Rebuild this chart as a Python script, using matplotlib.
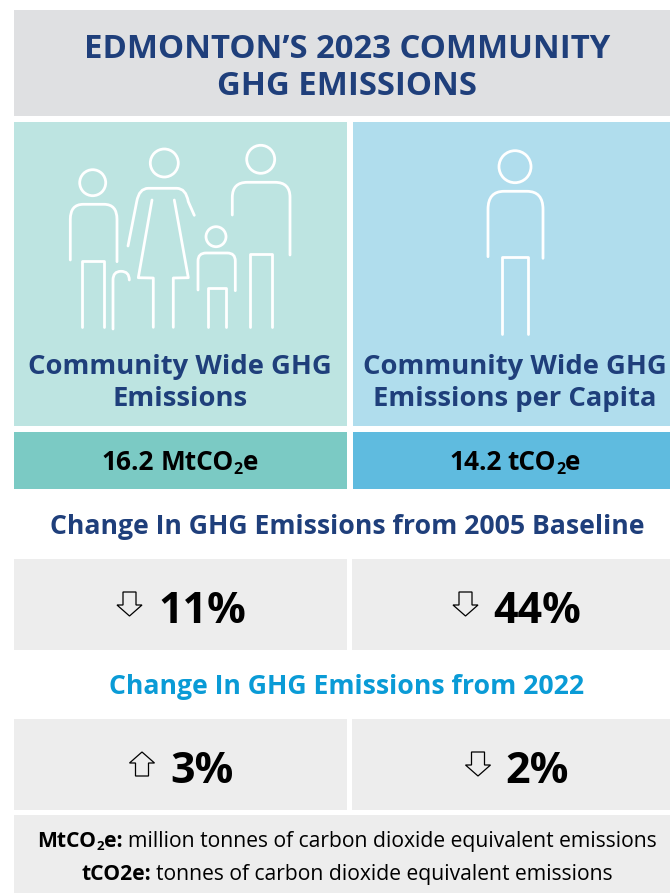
import matplotlib
matplotlib.use("Agg")
import matplotlib.pyplot as plt
from matplotlib.patches import Rectangle, Circle, Polygon, PathPatch
from matplotlib.path import Path

title_lines = ["EDMONTON\u2019S 2023 COMMUNITY", "GHG EMISSIONS"]
panel_labels = [["Community Wide GHG", "Emissions"], ["Community Wide GHG", "Emissions per Capita"]]
totals = ["16.2", "14.2"]
units = ["MtCO", "tCO"]
baseline_title = "Change In GHG Emissions from 2005 Baseline"
baseline_change = ["11%", "44%"]
baseline_dir = ["down", "down"]
recent_title = "Change In GHG Emissions from 2022"
recent_change = ["3%", "2%"]
recent_dir = ["up", "down"]

NAVY = "#1f3f7b"
CYAN = "#0a9bd6"
GREY = "#ededed"

plt.rcParams["font.family"] = ["Open Sans", "DejaVu Sans"]

fig = plt.figure(figsize=(6.70, 8.93), dpi=100)
ax = fig.add_axes([0, 0, 1, 1])
ax.set_xlim(0, 670)
ax.set_ylim(893, 0)
ax.axis("off")


def box(x0, y0, x1, y1, color):
    ax.add_patch(Rectangle((x0, y0), x1 - x0, y1 - y0, fc=color, ec="none"))


def line(pts, lw=2.0, color="white"):
    # a third item on a point makes it a curve control point
    verts = [pts[0][:2]]
    codes = [Path.MOVETO]
    for p in pts[1:]:
        verts.append(p[:2])
        codes.append(Path.CURVE3 if len(p) > 2 else Path.LINETO)
    ax.add_patch(PathPatch(Path(verts, codes), fc="none", ec=color, lw=lw,
                           capstyle="round", joinstyle="round"))


def head(x, y, r):
    ax.add_patch(Circle((x, y), r, fc="none", ec="white", lw=2.0))


def torso(xl, xr, top, bottom_l, bottom_r, rad_x, rad_y):
    line([(xl, bottom_l), (xl, top + rad_y), (xl, top, 1), (xl + rad_x, top, 1),
          (xr - rad_x, top), (xr, top, 1), (xr, top + rad_y, 1), (xr, bottom_r)])


def legs(xl, xr, top, bottom):
    line([(xl, bottom), (xl, top), (xr, top), (xr, bottom)])


def runs(cx, y, parts):
    # parts: (text, weight, size, dy, gap after in px), centred as a group on cx
    r = fig.canvas.get_renderer()
    items = []
    total = 0
    for s, weight, size, dy, gap in parts:
        t = ax.text(0, y + dy, s, fontweight=weight, fontsize=size, color="black",
                    ha="left", va="baseline")
        w = t.get_window_extent(r).width
        items.append((t, w, gap))
        total += w + gap
    x = cx - total / 2
    for t, w, gap in items:
        t.set_x(x)
        x += w + gap


def arrow(cx, top, bottom, direction):
    hw, sw, hh = 12.5, 6.5, 11
    if direction == "down":
        pts = [(cx - sw, top), (cx + sw, top), (cx + sw, bottom - hh), (cx + hw, bottom - hh),
               (cx, bottom), (cx - hw, bottom - hh), (cx - sw, bottom - hh)]
    else:
        pts = [(cx - sw, bottom), (cx + sw, bottom), (cx + sw, top + hh), (cx + hw, top + hh),
               (cx, top), (cx - hw, top + hh), (cx - sw, top + hh)]
    ax.add_patch(Polygon(pts, closed=True, fc="none", ec="black", lw=0.9))


# panels
box(14, 10, 670, 116, "#dfe0e2")
box(14, 122, 347, 426, "#bde4e1")
box(353, 122, 670, 426, "#b0dded")
box(14, 432, 347, 489, "#7bcac4")
box(353, 432, 670, 489, "#5fbbdf")
for y0, y1 in [(559, 650), (719, 810)]:
    box(14, y0, 347, y1, GREY)
    box(352, y0, 670, y1, GREY)
box(14, 815, 670, 893, GREY)

# title
ax.text(347, 58, title_lines[0], fontsize=23.7, fontweight="bold", color=NAVY, ha="center", va="baseline")
ax.text(347, 95, title_lines[1], fontsize=23.7, fontweight="bold", color=NAVY, ha="center", va="baseline")

# family icon
head(92.7, 182.7, 13)
torso(70.3, 117, 204.3, 260, 261.7, 13, 15)
legs(82.3, 103.7, 260.7, 327.3)
line([(113, 329), (113, 280), (113, 271.3, 1), (121, 271.3, 1), (129.3, 271.3, 1), (129.3, 280, 1)])
head(164.3, 163, 14)
line([(128, 246), (136.7, 201.7), (139, 188.3, 1), (148.3, 188.3, 1), (176.7, 188.3),
      (186, 188.3, 1), (188.3, 201.7, 1), (194.3, 215.3)])
line([(152, 200), (138.3, 277.7), (153.3, 278), (153.3, 327.3)])
line([(174.3, 200), (188.3, 277.7), (173.3, 278), (173.3, 327.3)])
head(216, 236.7, 10)
torso(198, 235.3, 253, 290, 290.7, 8, 8)
legs(207.7, 225.7, 287.7, 327.3)
head(260.7, 159.3, 14)
torso(232.3, 290, 182.3, 215, 255, 15, 15)
legs(250, 271.7, 254, 326.7)

# single person icon
head(515, 166.7, 16)
torso(488, 543, 191.3, 256.7, 258.3, 16, 18)
legs(502, 527.7, 256.7, 334)

# panel labels and totals
for cx, lab, val, unit in zip([180, 515], panel_labels, totals, units):
    ax.text(cx, 374, lab[0], fontsize=19.7, fontweight="bold", color=NAVY, ha="center", va="baseline")
    ax.text(cx, 406, lab[1], fontsize=19.7, fontweight="bold", color=NAVY, ha="center", va="baseline")
    runs(cx, 470, [(val, "bold", 18.9, 0, 6), (unit, "bold", 18.9, 0, 0),
                   ("2", "bold", 11.5, 4, 0), ("e", "bold", 18.9, 0, 0)])

# change rows
ax.text(347, 534, baseline_title, fontsize=19.2, fontweight="bold", color=NAVY, ha="center", va="baseline")
ax.text(347, 694, recent_title, fontsize=19.2, fontweight="bold", color=CYAN, ha="center", va="baseline")

for ax_x, arr_x, label, d in zip([202.5, 537.5], [129.5, 465.5], baseline_change, baseline_dir):
    ax.text(ax_x, 623, label, fontsize=31, fontweight="bold", color="black", ha="center", va="baseline")
    arrow(arr_x, 592, 616, d)
for ax_x, arr_x, label, d in zip([201.5, 537.5], [142, 478], recent_change, recent_dir):
    ax.text(ax_x, 783, label, fontsize=31, fontweight="bold", color="black", ha="center", va="baseline")
    arrow(arr_x, 752, 776, d)

# footnotes
runs(347, 847, [("MtCO", "bold", 15.2, 0, 0), ("2", "bold", 9.5, 3, 0), ("e:", "bold", 15.2, 0, 5),
                ("million tonnes of carbon dioxide equivalent emissions", "normal", 15.2, 0, 0)])
runs(347, 880, [("tCO2e:", "bold", 15.2, 0, 5),
                ("tonnes of carbon dioxide equivalent emissions", "normal", 15.2, 0, 0)])

fig.savefig("out.png", dpi=100)
